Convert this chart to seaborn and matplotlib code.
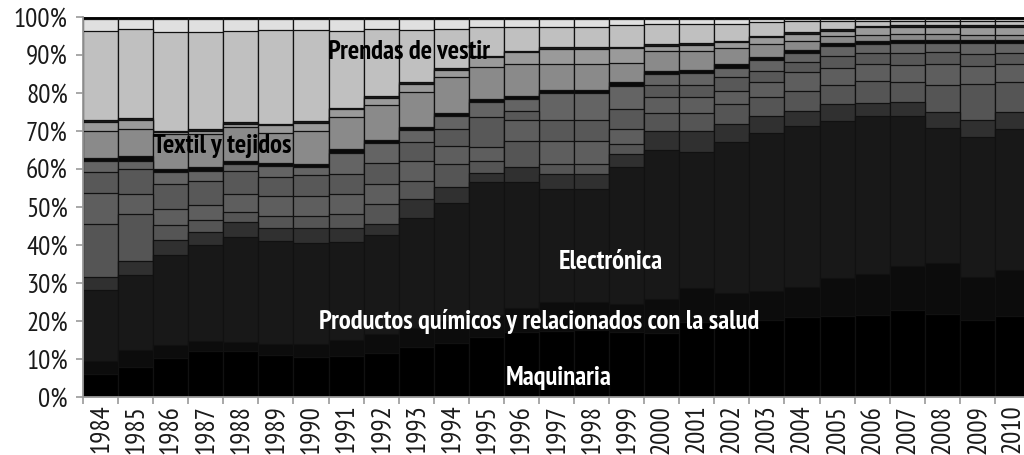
import os
import numpy as np
import pandas as pd
import matplotlib
matplotlib.use("Agg")
import matplotlib.pyplot as plt
from matplotlib.ticker import FixedLocator
from matplotlib import font_manager as fm
import seaborn as sns

years = [str(y) for y in range(1984, 2011)]

# layer shares (% of total), bottom to top
maquinaria = [6.1, 8.0, 10.2, 12.1, 12.1, 11.1, 10.6, 10.8, 11.6, 13.2, 14.3, 15.7, 17.0, 17.4,
              17.6, 17.0, 16.8, 19.8, 20.3, 20.3, 21.0, 21.3, 21.6, 23.0, 21.8, 20.3, 21.3]
quimicos = [3.5, 4.4, 3.5, 2.6, 2.3, 2.8, 3.3, 4.2, 5.1, 4.9, 5.7, 5.8, 6.3, 7.7,
            7.5, 7.6, 9.1, 8.8, 7.1, 7.7, 8.0, 9.9, 10.9, 11.5, 13.5, 11.4, 12.1]
electronica = [18.6, 19.7, 23.7, 25.3, 27.8, 27.2, 26.5, 25.7, 25.9, 29.0, 31.0, 35.2, 33.2, 29.6,
               29.6, 35.8, 39.1, 36.0, 39.6, 41.5, 42.2, 41.5, 41.4, 39.4, 35.5, 36.6, 37.1]
oscuro = [3.4, 3.7, 4.0, 3.5, 3.8, 3.5, 4.2, 3.9, 2.9, 5.1, 4.2, 2.3, 3.9, 3.9,
          3.9, 3.5, 5.1, 5.4, 4.8, 4.5, 4.1, 4.4, 3.6, 3.8, 4.1, 4.6, 4.4]
gris_a = [13.9, 12.4, 3.9, 3.0, 2.6, 3.1, 3.1, 3.6, 5.3, 4.7, 6.1, 3.2, 7.1, 2.7,
          2.7, 2.7, 4.6, 4.7, 5.3, 4.9, 5.3, 4.9, 5.7, 5.3, 7.3, 9.6, 7.9]
gris_b = [8.1, 5.2, 4.3, 3.9, 4.8, 5.3, 5.3, 5.2, 5.3, 5.3, 4.8, 3.5, 5.3, 6.2,
          6.2, 3.9, 4.2, 4.2, 3.5, 3.9, 4.8, 4.7, 4.4, 4.5, 5.4, 4.7, 4.8]
gris_c = [5.5, 6.6, 6.5, 6.5, 6.2, 5.0, 5.5, 5.3, 5.6, 4.8, 4.4, 7.9, 2.5, 5.3,
          5.3, 5.3, 3.1, 3.1, 3.5, 3.1, 2.8, 3.1, 2.8, 2.9, 3.1, 3.1, 2.8]
gris_d = [2.9, 2.2, 3.1, 2.7, 1.8, 2.7, 1.9, 5.6, 5.1, 3.2, 3.4, 4.0, 3.2, 7.2,
          7.2, 6.0, 3.0, 3.2, 2.5, 2.7, 2.3, 2.5, 2.4, 2.8, 2.5, 2.9, 2.8]
negro = [0.9, 1.3, 0.8, 0.8, 0.8, 0.8, 0.8, 1.0, 0.8, 0.8, 0.8, 0.8, 0.8, 0.8,
         0.8, 1.0, 0.9, 0.9, 1.0, 1.0, 0.8, 0.8, 0.8, 0.8, 0.8, 0.8, 0.8]
textil = [7.0, 7.0, 9.2, 8.8, 8.8, 8.1, 8.9, 8.3, 9.3, 9.2, 9.4, 8.4, 8.3, 6.8,
          6.8, 5.2, 5.1, 4.9, 4.2, 3.3, 2.5, 2.0, 1.7, 1.5, 1.5, 1.3, 1.3]
banda = [2.6, 2.5, 0.5, 0.9, 0.9, 1.9, 2.1, 2.1, 1.9, 2.2, 2.0, 2.6, 3.1, 4.0,
         4.0, 3.8, 1.5, 1.7, 1.6, 1.8, 1.8, 1.3, 2.0, 2.0, 2.0, 2.2, 2.2]
linea = [0.4] * 27
prendas = [23.5, 23.4, 25.9, 25.5, 24.1, 24.7, 24.0, 20.3, 17.6, 13.8, 10.3, 7.5, 6.2, 5.5,
           5.5, 5.6, 5.3, 5.1, 4.4, 3.5, 3.0, 2.2, 1.3, 1.1, 1.1, 1.1, 1.1]
claro = [3.1, 2.7, 3.5, 3.5, 3.1, 2.9, 2.9, 3.1, 2.7, 2.9, 2.7, 2.2, 2.2, 2.0,
         2.0, 1.7, 1.3, 1.3, 1.3, 0.9, 0.5, 0.5, 0.5, 0.5, 0.5, 0.5, 0.5]
resto = [0.5] * 27

layers = [
    ("maquinaria", maquinaria, "#000000"),
    ("quimicos", quimicos, "#0c0c0c"),
    ("electronica", electronica, "#181818"),
    ("oscuro", oscuro, "#303030"),
    ("gris_a", gris_a, "#555555"),
    ("gris_b", gris_b, "#5e5e5e"),
    ("gris_c", gris_c, "#585858"),
    ("gris_d", gris_d, "#646464"),
    ("negro", negro, "#0a0a0a"),
    ("textil", textil, "#8a8a8a"),
    ("banda", banda, "#9a9a9a"),
    ("linea", linea, "#1a1a1a"),
    ("prendas", prendas, "#c0c0c0"),
    ("claro", claro, "#e0e0e0"),
    ("resto", resto, "#000000"),
]

labels = [
    ("Prendas de vestir", 8.80, 90.8, "black"),
    ("Textil y tejidos", 3.47, 66.0, "black"),
    ("Electrónica", 14.54, 35.5, "white"),
    ("Productos químicos y relacionados con la salud", 12.51, 20.0, "white"),
    ("Maquinaria", 13.06, 5.0, "white"),
]

df = pd.DataFrame({name: vals for name, vals, _ in layers}, index=years)
df = df.div(df.sum(axis=1), axis=0) * 100
cum = df.cumsum(axis=1)

sns.set_theme(style="white")


# ---- pick a condensed sans font if one is installed ----
def find_condensed():
    files = sorted({f.fname for f in fm.fontManager.ttflist})
    def base(f):
        return os.path.basename(f).lower()
    prefs = [("narrow", ("sans",)), ("condensed", ("roboto", "opensans", "open", "notosans", "dejavusans", "lato", "inter"))]
    for key, fams in prefs:
        regs = []
        for f in files:
            b = base(f)
            if key not in b or "mono" in b or "serif" in b or "italic" in b or "oblique" in b:
                continue
            if "extra" in b or "ultra" in b or "semi" in b:
                continue
            if not any(fa in b.replace("-", "").replace("_", "") for fa in fams):
                continue
            regs.append(f)
        if not regs:
            continue
        reg = None
        bold = None
        for f in regs:
            b = base(f)
            wb = b.replace("condensed", "").replace("narrow", "")
            if "bold" in wb and "semibold" not in wb and "extrabold" not in wb:
                bold = bold or f
            elif not any(w in wb for w in ("bold", "light", "thin", "black", "medium", "heavy")):
                reg = reg or f
        if reg and bold:
            return fm.FontProperties(fname=reg), fm.FontProperties(fname=bold)
    return None


found = find_condensed()
if found:
    fp_reg, fp_bold = found
else:
    fp_reg = fm.FontProperties(family=["Liberation Sans", "DejaVu Sans"])
    fp_bold = fm.FontProperties(family=["Liberation Sans", "DejaVu Sans"], weight="bold")

plt.rcParams["font.family"] = ["Liberation Sans", "DejaVu Sans"]

fig = plt.figure(figsize=(10.24, 4.55), dpi=100)
renderer = fig.canvas.get_renderer()


def width_at(fp, s, size=10):
    p = fp.copy()
    p.set_size(size)
    t = fig.text(0, 0, s, fontproperties=p)
    w = t.get_window_extent(renderer).width
    t.remove()
    return w


tick_size = 10 * 49.0 / width_at(fp_reg, "1984")
lab_size = 10 * 444.0 / width_at(fp_bold, labels[3][0])
fp_tick = fp_reg.copy()
fp_tick.set_size(tick_size)
fp_lab = fp_bold.copy()
fp_lab.set_size(lab_size)

ax = fig.add_axes([83 / 1024, 1 - 397 / 455, 1 - 83 / 1024, (397 - 17) / 455])

for name, _, color in reversed(layers):
    sns.barplot(x=years, y=cum[name].values, color=color, saturation=1, width=1.0,
                edgecolor="#111111", linewidth=0.9, errorbar=None, ax=ax, order=years)

ax.set_xlim(-0.5, 26.33)
ax.set_ylim(0, 100)

for s in ["top", "right"]:
    ax.spines[s].set_visible(False)
for s in ["left", "bottom"]:
    ax.spines[s].set_color("#999999")
    ax.spines[s].set_linewidth(1.3)
    ax.spines[s].set_zorder(5)

ax.set_yticks(range(0, 101, 10))
ax.set_yticklabels([f"{v}%" for v in range(0, 101, 10)])
ax.tick_params(axis="y", length=5, width=1.2, color="#999999",
               labelcolor="#1a1a1a", pad=6, left=True)

ax.set_xticks(range(len(years)))
ax.set_xticklabels(years, rotation=90)
ax.tick_params(axis="x", which="major", length=0, labelcolor="#1a1a1a", pad=5.5)
ax.xaxis.set_minor_locator(FixedLocator(np.arange(-0.5, 27, 1.0)))
ax.tick_params(axis="x", which="minor", length=5, width=1.2, color="#999999", bottom=True)
ax.set_xlabel("")
ax.set_ylabel("")
for lbl in ax.get_xticklabels() + ax.get_yticklabels():
    lbl.set_fontproperties(fp_tick)

for txt, x, y, c in labels:
    ax.text(x, y, txt, color=c, ha="center", va="center", fontproperties=fp_lab)

fig.savefig("out.png", dpi=100)
